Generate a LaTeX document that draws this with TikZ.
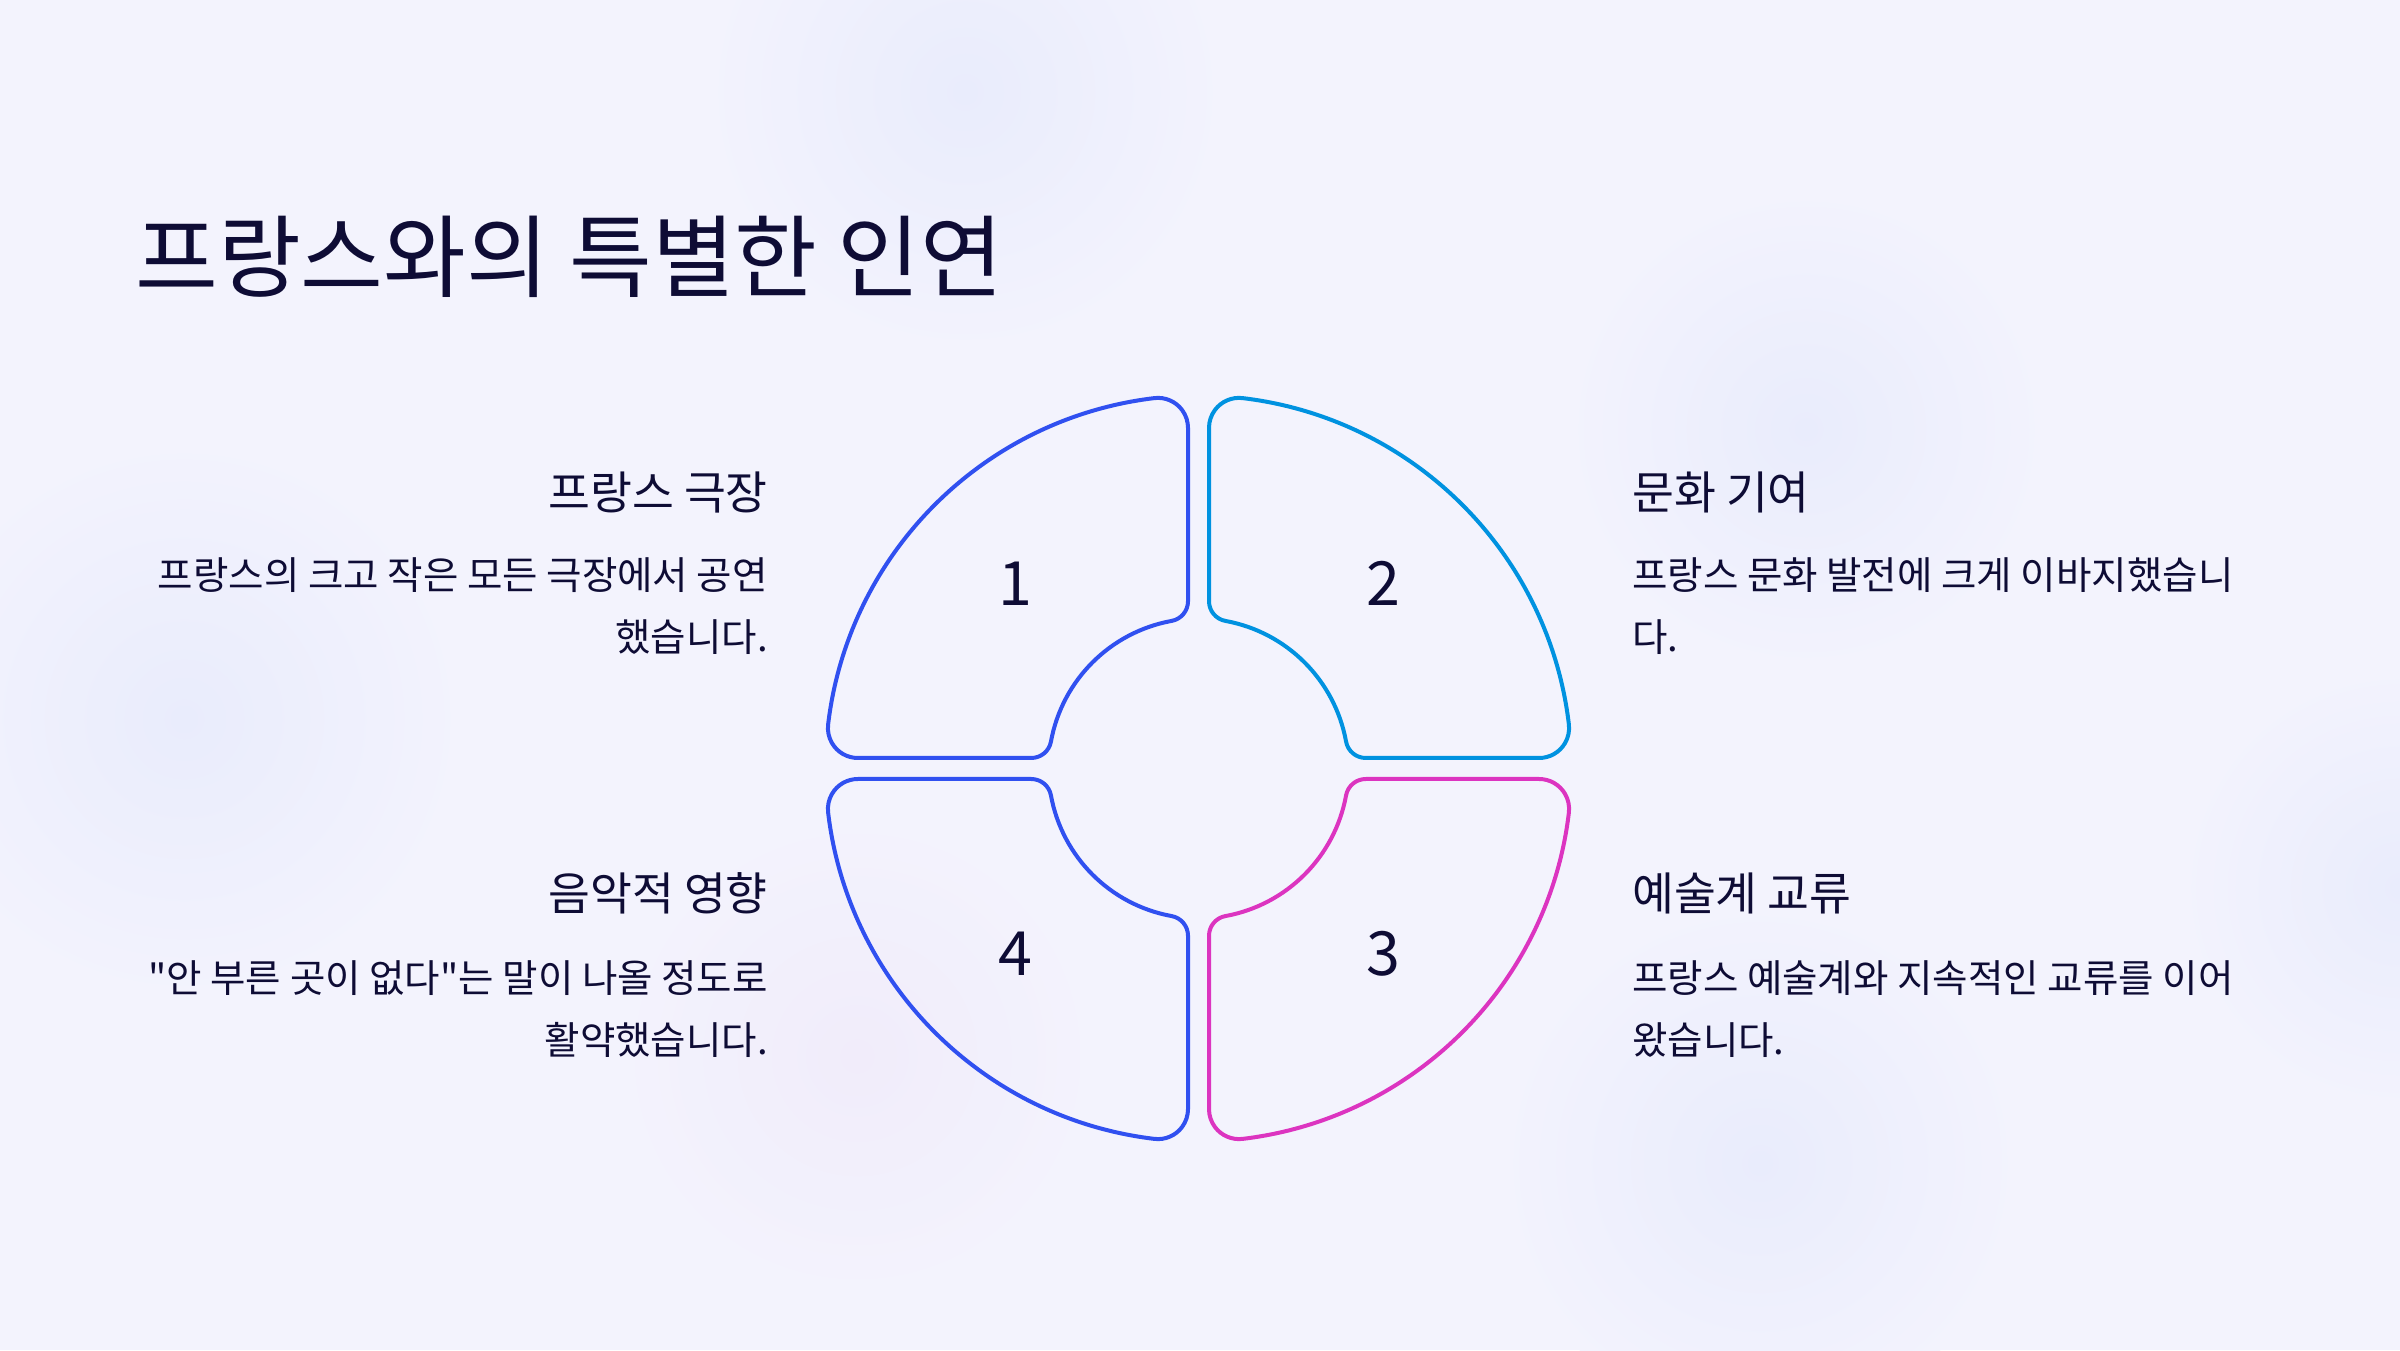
\documentclass[tikz,border=0pt]{standalone}
\usepackage{fontspec}
\newfontfamily\krfont{Noto Sans CJK KR}
\definecolor{bg}{HTML}{F3F3FD}
\definecolor{blob}{HTML}{E9ECFC}
\definecolor{blobp}{HTML}{F1ECFA}
\definecolor{ink}{HTML}{0E0C35}
\definecolor{qblue}{HTML}{3050F0}
\definecolor{qsky}{HTML}{0092E0}
\definecolor{qpink}{HTML}{DC34C0}
\newcommand\qpathshape{(167.24,10.5) -- (340.6,10.5)
  arc[start angle=-90,end angle=6.78,radius=30]
  arc[start angle=6.78,end angle=83.22,radius=373]
  arc[start angle=83.22,end angle=180,radius=30]
  -- (10.5,167.24)
  arc[start angle=180,end angle=259.66,radius=20]
  arc[start angle=79.66,end angle=10.34,radius=150]
  arc[start angle=190.34,end angle=270,radius=20]
  -- cycle}
\tikzset{
  quad/.style={line width=4pt, line join=round},
  titletxt/.style={inner sep=0pt, text=ink, font=\krfont\fontsize{90}{98}\selectfont},
  headtxt/.style={inner sep=0pt, text=ink, font=\krfont\fontsize{45.5}{52}\selectfont},
  bodytxt/.style={inner sep=0pt, text=ink, font=\krfont\fontsize{38.5}{46}\selectfont},
  numtxt/.style={inner sep=0pt, text=ink, font=\krfont\fontsize{61}{66}\selectfont},
}
\begin{document}
\begin{tikzpicture}[x=1pt,y=1pt]
\useasboundingbox (0,0) rectangle (2400,1350);
\fill[bg] (0,0) rectangle (2400,1350);
\shade[inner color=blob, outer color=bg] (965,1258) circle (260);
\shade[inner color=blob, outer color=bg] (184,631) circle (280);
\shade[inner color=blob, outer color=bg] (1760,187) circle (260);
\shade[inner color=blob, outer color=bg] (1806,921) circle (240);
\shade[inner color=blob, outer color=bg] (2400,462) circle (220);
\shade[inner color=blobp, outer color=bg] (857,294) circle (240);

\coordinate (c) at (1198.5,581.5);
\begin{scope}[shift={(c)}, xscale=-1]
  \draw[quad, qblue] \qpathshape;
\end{scope}
\begin{scope}[shift={(c)}]
  \draw[quad, qsky] \qpathshape;
\end{scope}
\begin{scope}[shift={(c)}, yscale=-1]
  \draw[quad, qpink] \qpathshape;
\end{scope}
\begin{scope}[shift={(c)}, xscale=-1, yscale=-1]
  \draw[quad, qblue] \qpathshape;
\end{scope}

\node[numtxt] (n1) at (1015,766.5) {1};
\node[numtxt] (n2) at (1383,766.5) {2};
\node[numtxt] (n3) at (1383,396.5) {3};
\node[numtxt] (n4) at (1015,396.5) {4};

\node[titletxt, anchor=base west] (title) at (135,1059) {프랑스와의 특별한 인연};

\node[headtxt, anchor=base east] (h1) at (768,840) {프랑스 극장};
\node[bodytxt, anchor=base east] (b1a) at (768,760) {프랑스의 크고 작은 모든 극장에서 공연};
\node[bodytxt, anchor=base east] (b1b) at (768,698) {했습니다.};

\node[headtxt, anchor=base west] (h2) at (1632,840) {문화 기여};
\node[bodytxt, anchor=base west] (b2a) at (1632,760) {프랑스 문화 발전에 크게 이바지했습니};
\node[bodytxt, anchor=base west] (b2b) at (1632,698) {다.};

\node[headtxt, anchor=base east] (h4) at (768,439) {음악적 영향};
\node[bodytxt, anchor=base east] (b4a) at (768,358) {"안 부른 곳이 없다"는 말이 나올 정도로};
\node[bodytxt, anchor=base east] (b4b) at (768,296) {활약했습니다.};

\node[headtxt, anchor=base west] (h3) at (1632,439) {예술계 교류};
\node[bodytxt, anchor=base west] (b3a) at (1632,358) {프랑스 예술계와 지속적인 교류를 이어};
\node[bodytxt, anchor=base west] (b3b) at (1632,296) {왔습니다.};
\end{tikzpicture}
\end{document}
